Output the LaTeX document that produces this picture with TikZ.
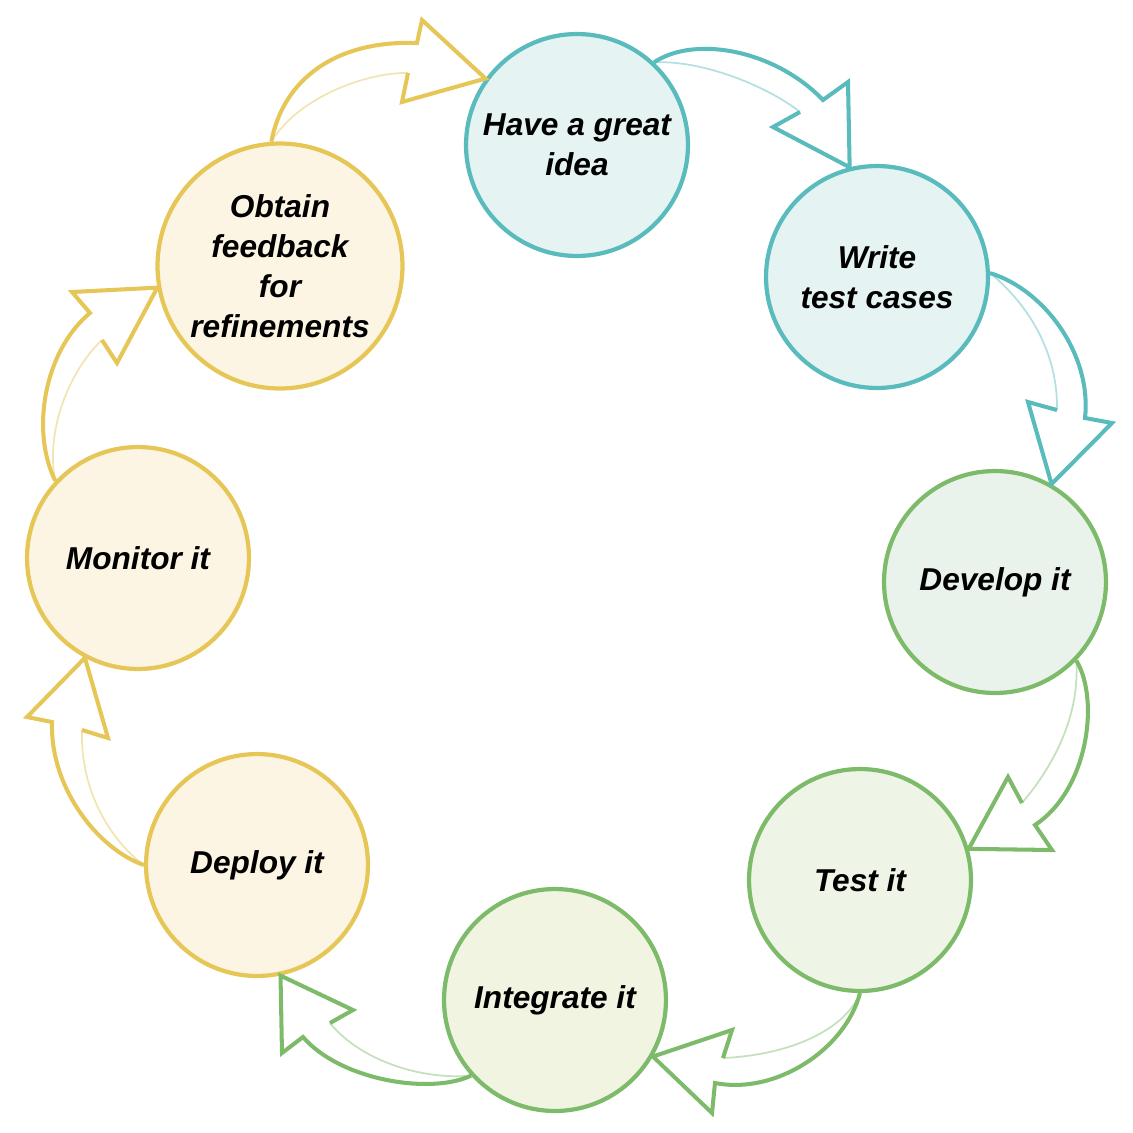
\documentclass[tikz,border=0pt]{standalone}
\usepackage{fontspec}
\setmainfont{Liberation Sans}

\definecolor{tealline}{HTML}{5ABBBD}
\definecolor{tealfill}{HTML}{E6F3F3}
\definecolor{greenline}{HTML}{7DBB6B}
\definecolor{mintfill}{HTML}{EAF3EB}
\definecolor{greenfill}{HTML}{EEF5E6}
\definecolor{limefill}{HTML}{F1F4E1}
\definecolor{yellowline}{HTML}{E5C657}
\definecolor{creamfill}{HTML}{FDF5E3}

\tikzset{
    stage/.style={circle, line width=2.4pt, minimum size=4.44cm, inner sep=0pt,
        align=center, font=\fontsize{18}{22.8}\selectfont\bfseries\itshape},
    tealstage/.style={stage, draw=tealline, fill=tealfill},
    greenstage/.style={stage, draw=greenline, fill=#1},
    yellowstage/.style={stage, draw=yellowline, fill=creamfill},
    bodyline/.style={line width=2.3pt, line join=miter},
    faintline/.style={line width=1pt, opacity=0.45},
}

\begin{document}
\begin{tikzpicture}[x=0.02cm,y=-0.02cm]
        \useasboundingbox (0,0) rectangle (1133,1133);
        % the eight stages
        \node[tealstage] (idea) at (577,145) {Have a great\\idea};
        \node[tealstage] (write) at (877,277) {Write\\test cases};
        \node[greenstage=mintfill] (develop) at (995,582) {Develop it};
        \node[greenstage=greenfill] (test) at (860,880) {Test it};
        \node[greenstage=limefill] (integrate) at (555,1000) {Integrate it};
        \node[yellowstage] (deploy) at (257,865) {Deploy it};
        \node[yellowstage] (monitor) at (138,558) {Monitor it};
        \node[yellowstage, minimum size=4.9cm] (feedback) at (280,266) {Obtain\\feedback\\for\\refinements};
        % hollow arrows: outer edge, head, then faint inner edge
        \draw[bodyline, tealline] (idea.47) .. controls (695,35) and (775,50) .. (823,100)
            -- (848,82) -- (write.104) -- (773,127) -- (800,112);
        \draw[faintline, tealline] (800,112) .. controls (770,88) and (705,60) .. (idea.47);
        \draw[bodyline, tealline] (write.2) .. controls (1045,290) and (1092,355) .. (1085,418)
            -- (1112,423) -- (develop.60) -- (1028,402) -- (1057,410);
        \draw[faintline, tealline] (1057,410) .. controls (1058,360) and (1035,310) .. (write.2);
        \draw[bodyline, greenline] (develop.-44) .. controls (1100,700) and (1088,790) .. (1035,825)
            -- (1052,850) -- (test.16) -- (1008,777) -- (1022,803);
        \draw[faintline, greenline] (1022,803) .. controls (1050,770) and (1080,720) .. (develop.-44);
        \draw[bodyline, greenline] (test.-90) .. controls (845,1050) and (775,1095) .. (715,1083)
            -- (712,1113) -- (integrate.-30) -- (732,1030) -- (723,1058);
        \draw[faintline, greenline] (723,1058) .. controls (790,1055) and (845,1030) .. (test.-90);
        \draw[bodyline, greenline] (integrate.222) .. controls (430,1095) and (340,1080) .. (303,1037)
            -- (282,1053) -- (deploy.-78) -- (353,1010) -- (330,1023);
        \draw[faintline, greenline] (330,1023) .. controls (360,1060) and (420,1080) .. (integrate.222);
        \draw[bodyline, yellowline] (deploy.180) .. controls (100,850) and (50,790) .. (52,722)
            -- (27,717) -- (monitor.-118) -- (108,738) -- (82,730);
        \draw[faintline, yellowline] (82,730) .. controls (80,790) and (110,840) .. (deploy.180);
        \draw[bodyline, yellowline] (monitor.137) .. controls (30,430) and (45,350) .. (90,313)
            -- (72,292) -- (feedback.190) -- (117,363) -- (102,340);
        \draw[faintline, yellowline] (102,340) .. controls (70,370) and (45,430) .. (monitor.137);
        \draw[bodyline, yellowline] (feedback.94) .. controls (283,80) and (335,40) .. (417,43)
            -- (422,20) -- (idea.144) -- (402,102) -- (408,73);
        \draw[faintline, yellowline] (408,73) .. controls (370,72) and (300,95) .. (feedback.94);
\end{tikzpicture}
\end{document}
